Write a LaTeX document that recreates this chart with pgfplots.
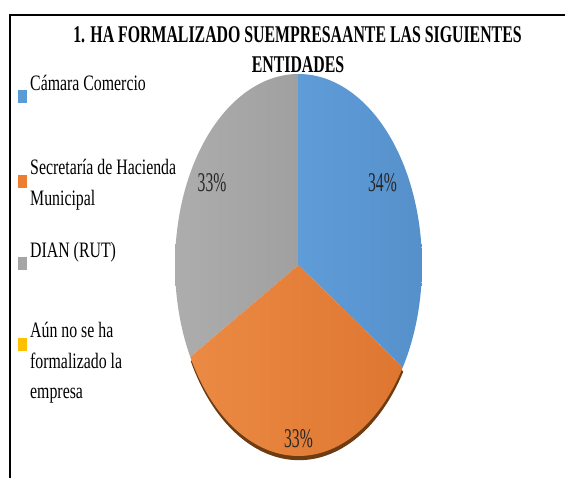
\documentclass[border=0pt]{standalone}
\usepackage{fontspec}
\setmainfont[FakeStretch=0.72]{Liberation Serif}
\newfontfamily\titlefont[FakeStretch=0.66]{Liberation Serif}
\newfontfamily\pctfont[FakeStretch=0.58]{Liberation Serif}
\usepackage{pgfplots}
\usepackage{pgfplotstable}
\pgfplotsset{compat=1.18}
\definecolor{cBlueL}{HTML}{5F9DD8}
\definecolor{cBlueR}{HTML}{5690CB}
\definecolor{cOrangeL}{HTML}{EB8A44}
\definecolor{cOrangeR}{HTML}{DE7630}
\definecolor{cGrayL}{HTML}{ADADAD}
\definecolor{cGrayR}{HTML}{A0A0A0}
\definecolor{cBlue}{HTML}{5B9BD5}
\definecolor{cOrange}{HTML}{ED7D31}
\definecolor{cGray}{HTML}{A5A5A5}
\definecolor{cYellow}{HTML}{FFC000}
\definecolor{cShadow}{HTML}{6E3C12}
\pgfplotstableread{
label value
Camara 34
Secretaria 33
DIAN 33
Aun 0
}\piedata
\begin{document}
\begin{tikzpicture}[x=1pt,y=1pt]
\useasboundingbox (0,0) rectangle (565,478);
\clip (0,0) rectangle (565,478);
% angles from the data (clockwise from 12 o'clock)
\pgfplotstablegetelem{0}{value}\of\piedata \pgfmathsetmacro{\vA}{\pgfplotsretval}
\pgfplotstablegetelem{1}{value}\of\piedata \pgfmathsetmacro{\vB}{\pgfplotsretval}
\pgfplotstablegetelem{2}{value}\of\piedata \pgfmathsetmacro{\vC}{\pgfplotsretval}
\pgfmathsetmacro{\aZero}{90}
\pgfmathsetmacro{\aOne}{\aZero-3.6*\vA}
\pgfmathsetmacro{\aTwo}{\aOne-3.6*\vB}
\pgfmathsetmacro{\aThree}{\aTwo-3.6*\vC}
% frame
\draw[line width=2.2pt] (10,-5) -- (10,463) -- (575,463);
% title
\node[anchor=base, font=\titlefont\bfseries\fontsize{24}{28}\selectfont] at (297.5,435) {1. HA FORMALIZADO SUEMPRESAANTE LAS SIGUIENTES};
\node[anchor=base, font=\titlefont\bfseries\fontsize{24}{28}\selectfont] at (298,405) {ENTIDADES};
\begin{axis}[at={(298.5pt,213pt)}, anchor=center, scale only axis,
  width=247pt, height=382pt, xmin=-1, xmax=1, ymin=-1, ymax=1,
  hide axis, clip=false]
\addplot[fill=cShadow, draw=none, domain=\aTwo:\aOne, samples=90] ({0.004+cos(x)},{-0.022+sin(x)}) -- (axis cs:0.004,-0.022) -- cycle;
\addplot[left color=cGrayL, right color=cGrayR, draw=none, domain=\aThree:\aTwo, samples=90] ({cos(x)},{sin(x)}) -- (axis cs:0,0) -- cycle;
\addplot[left color=cBlueL, right color=cBlueR, draw=none, domain=\aOne:\aZero, samples=90] ({cos(x)},{sin(x)}) -- (axis cs:0,0) -- cycle;
\addplot[left color=cOrangeL, right color=cOrangeR, draw=none, domain=\aTwo:\aOne, samples=90] ({cos(x)},{sin(x)}) -- (axis cs:0,0) -- cycle;
\node[anchor=base, font=\pctfont\fontsize{27}{30}\selectfont, text=black!85] at (axis cs:0.68,0.387) {34\%};
\node[anchor=base, font=\pctfont\fontsize{27}{30}\selectfont, text=black!85] at (axis cs:-0.70,0.387) {33\%};
\node[anchor=base, font=\pctfont\fontsize{27}{30}\selectfont, text=black!85] at (axis cs:0,-0.953) {33\%};
\end{axis}
% legend
\fill[cBlue] (18,375) rectangle (27,388);
\node[anchor=base west, inner sep=0pt, font=\fontsize{22}{31}\selectfont] at (30,387) {Cámara Comercio};
\fill[cOrange] (18,290) rectangle (27,303);
\node[anchor=base west, inner sep=0pt, font=\fontsize{22}{31}\selectfont] at (30,303) {Secretaría de Hacienda};
\node[anchor=base west, inner sep=0pt, font=\fontsize{22}{31}\selectfont] at (30,272) {Municipal};
\fill[cGray] (18,208) rectangle (27,221);
\node[anchor=base west, inner sep=0pt, font=\fontsize{22}{31}\selectfont] at (30,220) {DIAN (RUT)};
\fill[cYellow] (18,127) rectangle (27,140);
\node[anchor=base west, inner sep=0pt, font=\fontsize{22}{31}\selectfont] at (30,140) {Aún no se ha};
\node[anchor=base west, inner sep=0pt, font=\fontsize{22}{31}\selectfont] at (30,109) {formalizado la};
\node[anchor=base west, inner sep=0pt, font=\fontsize{22}{31}\selectfont] at (30,79) {empresa};
\end{tikzpicture}
\end{document}
